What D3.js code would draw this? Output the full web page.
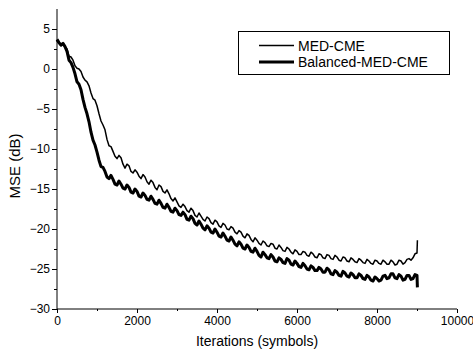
<!DOCTYPE html>
<html>
<head>
<meta charset="utf-8">
<script src="https://cdn.jsdelivr.net/npm/d3@7"></script>
<style>
  html, body { margin: 0; padding: 0; background: #fff; }
  svg { display: block; font-family: "Liberation Sans", Arial, sans-serif; }
</style>
</head>
<body>
<svg id="chart" width="473" height="352"></svg>
<script>
// ---- data ----
// sample positions: every 50 symbols up to 9000, plus the final jump at the end
const iterations = d3.range(0, 9001, 50).concat([9010]);
const medCme = [
  3.5,3.2,2.9,3.1,2.8,2.5,1.6,1.5,1.1,0.4,0.1,0.0,-0.3,-1.0,-1.4,-1.6,-2.1,-3.0,-3.7,-3.9,
  -4.6,-5.6,-6.5,-7.0,-7.6,-8.8,-9.6,-9.7,-10.3,-10.9,-11.2,-10.8,-11.1,-11.9,-12.4,-11.9,-12.1,-12.8,-13.0,-12.6,
  -12.9,-13.4,-13.7,-13.2,-13.5,-14.1,-14.4,-13.9,-14.2,-14.8,-15.1,-14.5,-14.7,-15.3,-15.5,-15.1,-15.6,-16.2,-16.5,-16.1,
  -16.6,-17.1,-17.3,-16.9,-17.2,-17.7,-17.9,-17.4,-17.7,-18.3,-18.5,-18.0,-18.4,-18.8,-19.0,-18.5,-18.7,-19.2,-19.4,-18.9,
  -19.1,-19.6,-19.8,-19.3,-19.5,-20.0,-20.1,-19.7,-19.9,-20.4,-20.6,-20.2,-20.4,-20.9,-21.1,-20.6,-20.8,-21.3,-21.6,-21.1,
  -21.4,-21.8,-22.0,-21.5,-21.7,-22.1,-22.2,-21.8,-21.9,-22.4,-22.5,-22.0,-22.3,-22.7,-22.8,-22.3,-22.5,-22.9,-23.1,-22.6,
  -22.8,-23.2,-23.2,-22.8,-22.9,-23.3,-23.4,-22.9,-23.1,-23.5,-23.6,-23.1,-23.2,-23.6,-23.7,-23.2,-23.3,-23.7,-23.8,-23.3,
  -23.5,-23.9,-24.0,-23.5,-23.6,-24.0,-24.1,-23.6,-23.8,-24.1,-24.2,-23.7,-23.9,-24.2,-24.3,-23.8,-24.0,-24.3,-24.4,-23.9,
  -24.0,-24.3,-24.4,-23.9,-24.1,-24.4,-24.4,-23.9,-24.1,-24.5,-24.4,-23.9,-24.0,-24.4,-24.2,-23.8,-23.7,-23.9,-23.6,-23.1,
  -23.0,-21.4
];
const balancedMedCme = [
  3.7,3.3,3.0,3.2,2.8,2.2,1.1,0.8,0.2,-0.6,-1.6,-1.9,-2.6,-3.8,-4.8,-5.6,-6.6,-7.9,-8.9,-9.5,
  -10.4,-11.4,-12.2,-12.3,-12.8,-13.5,-13.7,-13.3,-13.8,-14.4,-14.5,-14.0,-14.4,-14.9,-15.0,-14.5,-14.8,-15.4,-15.5,-15.0,
  -15.3,-15.9,-16.0,-15.5,-15.8,-16.3,-16.4,-15.9,-16.3,-16.8,-16.9,-16.4,-16.8,-17.3,-17.4,-16.9,-17.3,-17.8,-17.9,-17.4,
  -17.7,-18.2,-18.3,-17.9,-18.2,-18.8,-18.9,-18.4,-18.7,-19.3,-19.5,-19.0,-19.4,-19.9,-20.1,-19.6,-19.9,-20.4,-20.5,-20.0,
  -20.4,-20.9,-21.0,-20.5,-20.9,-21.4,-21.5,-21.0,-21.4,-21.9,-22.1,-21.6,-21.9,-22.4,-22.5,-22.0,-22.3,-22.8,-22.9,-22.4,
  -22.8,-23.3,-23.5,-22.9,-23.2,-23.6,-23.7,-23.2,-23.5,-24.0,-24.1,-23.6,-23.8,-24.2,-24.3,-23.7,-23.9,-24.4,-24.5,-24.0,
  -24.3,-24.7,-24.8,-24.3,-24.6,-25.0,-25.1,-24.6,-24.8,-25.2,-25.2,-24.8,-25.0,-25.4,-25.4,-24.9,-25.1,-25.6,-25.7,-25.2,
  -25.4,-25.8,-25.9,-25.3,-25.5,-25.9,-26.0,-25.5,-25.7,-26.1,-26.1,-25.6,-25.8,-26.2,-26.3,-25.8,-26.0,-26.4,-26.5,-26.0,
  -26.2,-26.5,-26.4,-25.9,-25.8,-26.2,-26.1,-25.6,-25.6,-26.1,-26.2,-25.7,-25.9,-26.4,-26.3,-25.8,-25.8,-26.3,-26.2,-25.7,
  -25.8,-27.3
];
const seriesNames = ["MED-CME", "Balanced-MED-CME"];
const xTicks = [0, 2000, 4000, 6000, 8000, 10000];
const xMinorTicks = [1000, 3000, 5000, 7000, 9000];
const yTicks = [-30, -25, -20, -15, -10, -5, 0, 5];
const yMinorTicks = [-27.5, -22.5, -17.5, -12.5, -7.5, -2.5, 2.5];
const xLabel = "Iterations (symbols)";
const yLabel = "MSE (dB)";

// ---- drawing ----
const svg = d3.select("#chart");
svg.append("rect").attr("width", 473).attr("height", 352).attr("fill", "#fff");

const x = d3.scaleLinear().domain([0, 10000]).range([57, 457]);
const y = d3.scaleLinear().domain([-30, 7.5]).range([309, 9]);

const seriesData = [medCme, balancedMedCme];
const widths = [1.5, 3];

// lines
const line = d3.line().x((d, i) => x(iterations[i])).y(d => y(d));
seriesData.forEach((vals, k) => {
  svg.append("path").datum(vals)
    .attr("d", line).attr("fill", "none").attr("stroke", "#000")
    .attr("stroke-width", widths[k]).attr("stroke-linejoin", "round");
});

// x axis
const xAxis = svg.append("g").attr("transform", `translate(0,${y(-30)})`)
  .call(d3.axisBottom(x).tickValues(xTicks).tickSize(4).tickPadding(3).tickFormat(d3.format("d")));
svg.append("g").attr("transform", `translate(0,${y(-30)})`)
  .call(d3.axisBottom(x).tickValues(xMinorTicks).tickSize(2).tickFormat(""))
  .call(g => g.select(".domain").remove());

// y axis
const yAxis = svg.append("g").attr("transform", `translate(${x(0)},0)`)
  .call(d3.axisLeft(y).tickValues(yTicks).tickSize(5).tickPadding(2).tickFormat(d3.format("d")));
svg.append("g").attr("transform", `translate(${x(0)},0)`)
  .call(d3.axisLeft(y).tickValues(yMinorTicks).tickSize(3).tickFormat(""))
  .call(g => g.select(".domain").remove());

xAxis.select(".domain").attr("d", `M${x(0)},0H${x(10000)}`);
yAxis.select(".domain").attr("d", `M0,${y(7.5)}V${y(-30)}`);
svg.selectAll(".tick text").attr("font-size", 12).attr("font-family", "'Liberation Sans', Arial, sans-serif").attr("fill", "#000");
svg.selectAll(".tick line, .domain").attr("stroke", "#000").attr("stroke-width", 1);

// axis titles
svg.append("text").attr("x", (x(0) + x(10000)) / 2).attr("y", 346)
  .attr("text-anchor", "middle").attr("font-size", 14).text(xLabel);
svg.append("text").attr("transform", `translate(20,${(y(7.5) + y(-30)) / 2 + 7}) rotate(-90)`)
  .attr("text-anchor", "middle").attr("font-size", 15).text(yLabel);

// legend
const lg = svg.append("g");
lg.append("rect").attr("x", 238.5).attr("y", 31.5).attr("width", 211).attr("height", 43)
  .attr("fill", "#fff").attr("stroke", "#000").attr("stroke-width", 1);
seriesNames.forEach((name, i) => {
  const cy = 45.5 + i * 16.5;
  lg.append("line").attr("x1", 259).attr("x2", 294).attr("y1", cy).attr("y2", cy)
    .attr("stroke", "#000").attr("stroke-width", widths[i]);
  lg.append("text").attr("x", 298).attr("y", cy + 5).attr("font-size", 14).text(name);
});
</script>
</body>
</html>
